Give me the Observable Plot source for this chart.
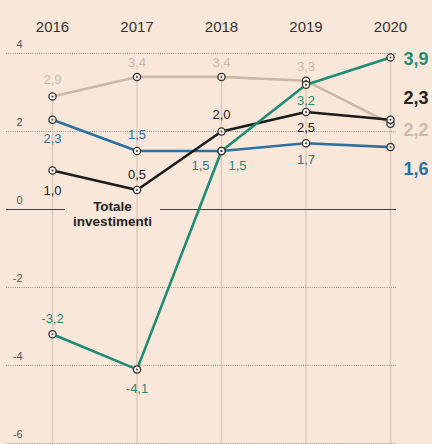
<!DOCTYPE html>
<html>
<head>
<meta charset="utf-8">
<script src="https://cdn.jsdelivr.net/npm/d3@7"></script>
<script src="https://cdn.jsdelivr.net/npm/@observablehq/plot@0.6"></script>
<style>
  html, body { margin: 0; padding: 0; background: #f9e7d9; }
  svg { display: block; }
</style>
</head>
<body>
<div id="chart"></div>
<script>
// ---- data ----
const years = [2016, 2017, 2018, 2019, 2020];
const seriesNames = ["gray", "blue", "black", "green"];
const grayValues  = [2.9, 3.4, 3.4, 3.3, 2.2];
const blueValues  = [2.3, 1.5, 1.5, 1.7, 1.6];
const blackValues = [1.0, 0.5, 2.0, 2.5, 2.3];
const greenValues = [-3.2, -4.1, 1.5, 3.2, 3.9];
const yTicks = [4, 2, 0, -2, -4, -6];
const annotation = ["Totale", "investimenti"];

// ---- styling / placement ----
const colors = { gray: "#c9b9ab", blue: "#2b71a3", black: "#1b1b1b", green: "#1e8c74" };
const labelColors = { gray: "#c8bbb0", blue: "#2b71a3", black: "#222", green: "#1e8c74" };
// label offsets (px) for 2016..2019, and for the right-hand 2020 label
const place = {
  gray:  { dx: [0, 0, 0, 0],    dy: [-17, -14, -14, -14], right: 7 },
  blue:  { dx: [0, 0, -21, 0],  dy: [19, -16, 15, 17],    right: 22 },
  black: { dx: [0, 0, 0, 0],    dy: [20, -15, -17, 16],   right: -22 },
  green: { dx: [0, 0, 16, 0],   dy: [-15, 19, 15, 16],    right: 2 }
};
const valuesBy = { gray: grayValues, blue: blueValues, black: blackValues, green: greenValues };

const rows = [];
for (const s of seriesNames) {
  valuesBy[s].forEach((v, i) => rows.push({ series: s, year: years[i], value: v, i }));
}
const fmt = v => v.toFixed(1).replace(".", ",");
const colMax = years.map((y, i) => ({ year: y, top: Math.max(...seriesNames.map(s => valuesBy[s][i])) }));

const X0 = 52, X1 = 390;
const px2x = p => 2016 + (p - X0) * 4 / (X1 - X0);
const font = "Liberation Sans, Arial, sans-serif";

const labelMarks = rows.map(d => {
  const p = place[d.series];
  const isLast = d.year === 2020;
  return Plot.text([d], {
    x: "year", y: "value", text: r => fmt(r.value),
    dx: isLast ? 13 : p.dx[d.i],
    dy: isLast ? p.right : p.dy[d.i],
    textAnchor: isLast ? "start" : "middle",
    fill: labelColors[d.series],
    fontSize: isLast ? 18 : 13,
    fontWeight: isLast ? "bold" : "normal"
  });
});

const chart = Plot.plot({
  width: 432,
  height: 444,
  marginLeft: 6,
  marginRight: 36,
  marginTop: 53,
  marginBottom: 1,
  x: { domain: [2016, 2020], range: [X0, X1], axis: null },
  y: { domain: [-6, 4], axis: null },
  style: { background: "#f9e7d9", fontFamily: font, overflow: "visible" },
  marks: [
    // vertical guides from top point down
    Plot.ruleX(colMax, { x: "year", y1: "top", y2: -6, stroke: "#dccbbd", strokeWidth: 1.5 }),
    // dotted horizontal grid
    Plot.ruleY(yTicks.filter(t => t !== 0), { y: d => d, stroke: "#9a918a", strokeWidth: 1, strokeDasharray: "1,1.2" }),
    // zero line, broken by label
    Plot.ruleY([0], { y: d => d, x1: px2x(6), x2: px2x(65), stroke: "#444", strokeWidth: 1 }),
    Plot.ruleY([0], { y: d => d, x1: px2x(160), x2: px2x(396), stroke: "#444", strokeWidth: 1 }),
    // y tick labels
    Plot.text(yTicks, { y: d => d, frameAnchor: "left", dx: 16, dy: -9, textAnchor: "end", text: d => String(d), fontSize: 11, fill: "#555" }),
    // year labels
    Plot.text(years, { x: d => d, frameAnchor: "top", dy: -32, text: d => String(d), fontSize: 15, fill: "#333" }),
    // lines
    ...seriesNames.map(s => Plot.line(rows.filter(d => d.series === s), { x: "year", y: "value", stroke: colors[s], strokeWidth: 2.6 })),
    // points
    Plot.dot(rows, { x: "year", y: "value", r: 3.6, fill: "#fdf4ec", stroke: "#333", strokeWidth: 1.3 }),
    Plot.dot(rows, { x: "year", y: "value", r: 1, fill: "#333" }),
    // value labels
    ...labelMarks,
    // annotation
    Plot.text([annotation.join("\n")], { x: px2x(112), y: 0, dy: 4, text: d => d, fontSize: 13.5, fontWeight: "bold", fill: "#222", lineHeight: 1.1 })
  ]
});
document.getElementById("chart").appendChild(chart);
</script>
</body>
</html>
